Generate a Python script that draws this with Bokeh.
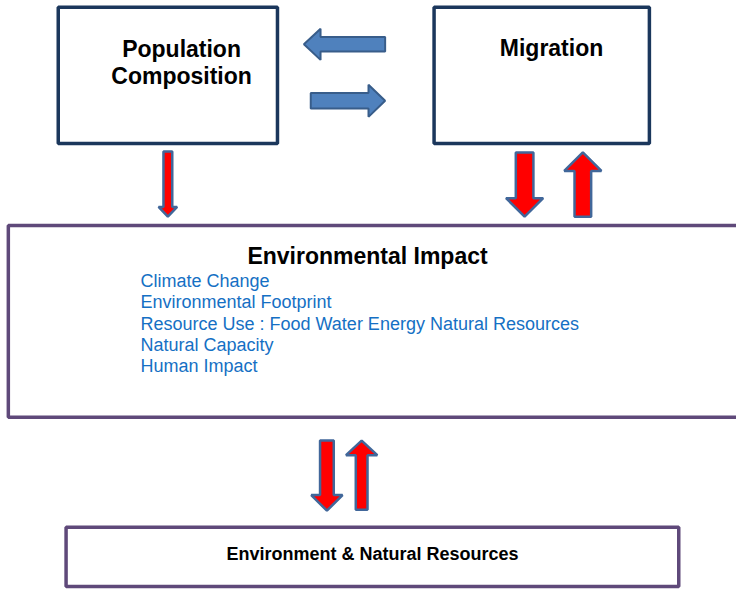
import math
from bokeh.plotting import figure
from bokeh.models import Range1d
from bokeh.embed import file_html
from bokeh.resources import INLINE
from bokeh.core.properties import value

# ---- content (diagram data) ----
box_titles = ["Population\nComposition", "Migration", "Environmental Impact", "Environment & Natural Resources"]
impact_items = ["Climate Change", "Environmental Footprint",
                "Resource Use : Food Water Energy Natural Resources",
                "Natural Capacity", "Human Impact"]

# boxes: left, right, top, bottom (reference pixels)
top_boxes_left = [59, 443]
top_boxes_right = [283, 663]
top_boxes_top = [7, 7]
top_boxes_bottom = [147, 147]

impact_box = (8, 790, 231, 428)
resources_box = (67, 693, 541, 602)

# arrows: (x_start, y_start, x_end, y_end, body width, head width, head length)
blue_arrows = [
    (393, 45, 310, 45, 15, 32, 17),
    (317, 103, 393, 103, 16, 33, 17),
]
red_arrows = [
    (171, 155, 171, 222, 9, 19, 10),
    (535.5, 156, 535.5, 222, 18, 38, 19),
    (595, 222, 595, 156, 17, 38, 19),
    (333.5, 452, 333.5, 524, 14, 32, 16),
    (369, 523, 369, 452, 12, 32, 15),
]


def arrow_poly(x0, y0, x1, y1, bw, hw, hl):
    dx, dy = x1 - x0, y1 - y0
    L = math.hypot(dx, dy)
    ux, uy = dx / L, dy / L
    nx, ny = -uy, ux
    bx, by = x1 - ux * hl, y1 - uy * hl
    pts = [
        (x0 + nx * bw / 2, y0 + ny * bw / 2),
        (bx + nx * bw / 2, by + ny * bw / 2),
        (bx + nx * hw / 2, by + ny * hw / 2),
        (x1, y1),
        (bx - nx * hw / 2, by - ny * hw / 2),
        (bx - nx * bw / 2, by - ny * bw / 2),
        (x0 - nx * bw / 2, y0 - ny * bw / 2),
    ]
    return [q[0] for q in pts], [q[1] for q in pts]


p = figure(width=736, height=590, output_backend="svg", toolbar_location=None,
           x_range=Range1d(0, 752), y_range=Range1d(606, 0),
           min_border=0, background_fill_color="white", border_fill_color="white")
p.axis.visible = False
p.grid.visible = False
p.outline_line_color = None

FONT = value("Liberation Sans")

# top boxes
p.quad(left=top_boxes_left, right=top_boxes_right, top=top_boxes_top, bottom=top_boxes_bottom,
       fill_color="white", line_color="#1B375C", line_width=3.5)

# impact box
p.quad(left=[impact_box[0]], right=[impact_box[1]], top=[impact_box[2]], bottom=[impact_box[3]],
       fill_color="white", line_color="#5F497A", line_width=3.5)

# resources box
p.quad(left=[resources_box[0]], right=[resources_box[1]], top=[resources_box[2]], bottom=[resources_box[3]],
       fill_color="white", line_color="#5F497A", line_width=3.5)

# arrows
bxs, bys = zip(*[arrow_poly(*a) for a in blue_arrows])
p.patches(xs=list(bxs), ys=list(bys), fill_color="#4F81BD", line_color="#385D8A", line_width=2)
rxs, rys = zip(*[arrow_poly(*a) for a in red_arrows])
p.patches(xs=list(rxs), ys=list(rys), fill_color="#FF0000", line_color="#41679A", line_width=2.5)

# titles
p.text(x=[185, 185], y=[50, 78], text=["Population", "Composition"], text_font=FONT,
       text_font_style="bold", text_font_size="23px", text_align="center",
       text_baseline="alphabetic", text_color="black")
p.text(x=[563], y=[49], text=[box_titles[1]], text_font=FONT,
       text_font_style="bold", text_font_size="23px", text_align="center",
       text_baseline="alphabetic", text_color="black")
p.text(x=[375], y=[262], text=[box_titles[2]], text_font=FONT,
       text_font_style="bold", text_font_size="23px", text_align="center",
       text_baseline="alphabetic", text_color="black")
p.text(x=[380], y=[569], text=[box_titles[3]], text_font=FONT,
       text_font_style="bold", text_font_size="18px", text_align="center",
       text_baseline="alphabetic", text_color="black")

# impact list
item_y = [288, 310, 332, 353.5, 375]
p.text(x=[143] * len(impact_items), y=item_y, text=impact_items, text_font=FONT,
       text_font_size="18px", text_align="left", text_baseline="alphabetic",
       text_color="#1570C4")

open("out.html", "w").write(file_html(p, INLINE))
